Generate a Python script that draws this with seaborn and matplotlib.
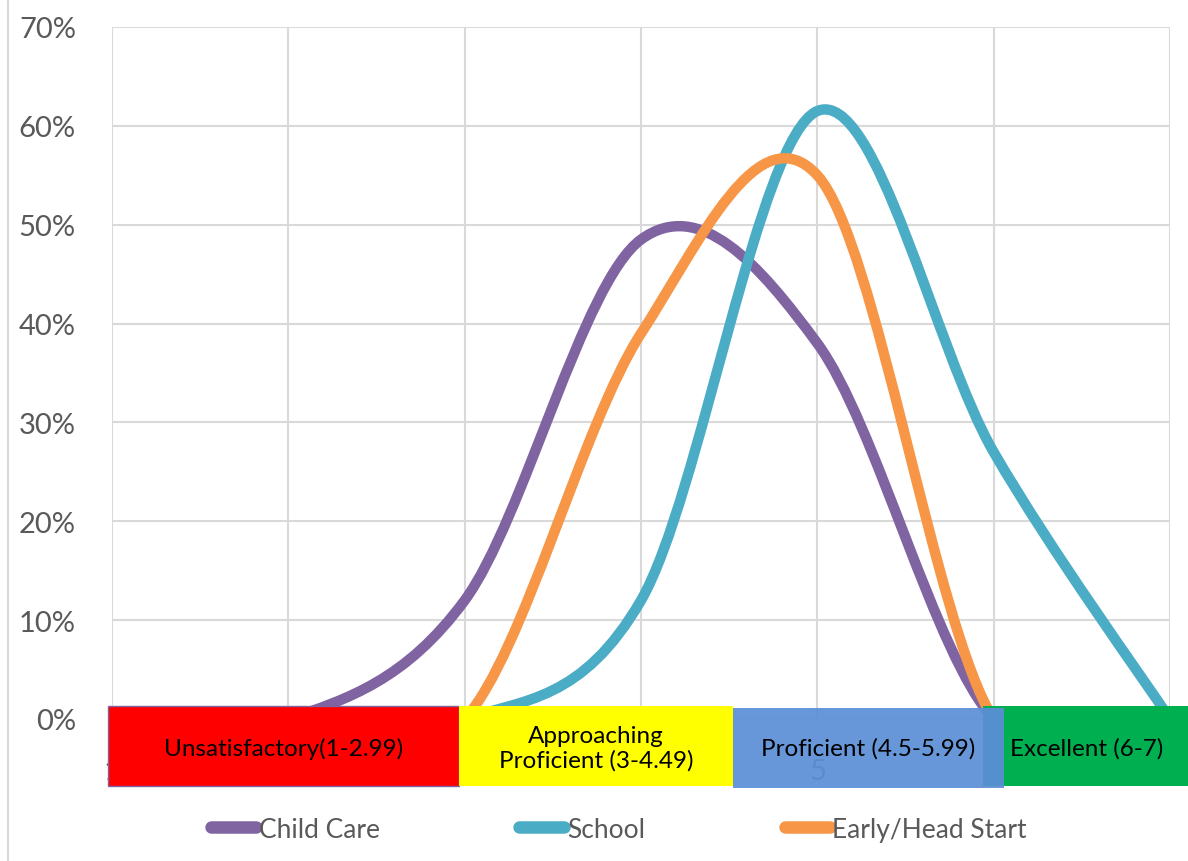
import numpy as np
import matplotlib
matplotlib.use("Agg")
import matplotlib.pyplot as plt
from matplotlib.path import Path
from matplotlib.patches import PathPatch, Rectangle
from matplotlib.lines import Line2D
from matplotlib.ticker import PercentFormatter
import seaborn as sns

# rating scale points
scores = [1, 2, 3, 4, 5, 6, 7]

# share of programs at each score
child_care = [0.0, 0.0, 0.12, 0.485, 0.38, 0.0, 0.0]
school = [0.0, 0.0, 0.0, 0.12, 0.615, 0.27, 0.0]
early_head_start = [0.0, 0.0, 0.0, 0.39, 0.55, 0.0, 0.0]

series_names = ["Child Care", "School", "Early/Head Start"]
series_colors = ["#8064A2", "#4BACC6", "#F79646"]

# rating bands drawn over the x axis labels
band_labels = ["Unsatisfactory(1-2.99)", "Approaching\nProficient (3-4.49)",
               "Excellent (6-7)", "Proficient (4.5-5.99)"]
band_colors = ["#FF0000", "#FFFF00", "#00B050", "#5B8FD6"]

sns.set_theme(style="white")
plt.rcParams["font.family"] = ["Lato", "DejaVu Sans"]

fig = plt.figure(figsize=(11.88, 8.62), dpi=100)
ax = fig.add_axes([112 / 1188, 1 - 720 / 862, (1170 - 112) / 1188, (720 - 28) / 862])


def smooth_path(xs, ys):
    # excel style smoothed line: cubic bezier through every point
    pts = np.column_stack([xs, ys]).astype(float)
    n = len(pts)
    verts = [pts[0]]
    codes = [Path.MOVETO]
    for i in range(n - 1):
        p0 = pts[i - 1] if i > 0 else pts[i]
        p1 = pts[i]
        p2 = pts[i + 1]
        p3 = pts[i + 2] if i + 2 < n else pts[i + 1]
        c1 = p1 + (p2 - p0) / 6
        c2 = p2 - (p3 - p1) / 6
        verts += [c1, c2, p2]
        codes += [Path.CURVE4] * 3
    return Path(verts, codes)


for vals, name, col in zip([child_care, school, early_head_start], series_names, series_colors):
    patch = PathPatch(smooth_path(scores, vals), facecolor="none", edgecolor=col,
                      lw=7.5, capstyle="round", joinstyle="round", zorder=3)
    ax.add_patch(patch)

ax.set_xlim(1, 7)
ax.set_ylim(0, 0.7)
ax.set_xticks(scores)
ax.set_yticks(np.arange(0, 0.71, 0.1))
ax.yaxis.set_major_formatter(PercentFormatter(1.0, decimals=0))
ax.grid(True, color="#D9D9D9", lw=1.5)
ax.tick_params(axis="both", length=0, labelsize=21, labelcolor="#595959")
ax.tick_params(axis="x", pad=28)
ax.tick_params(axis="y", pad=26)
sns.despine(ax=ax, left=True, bottom=True)

# coloured bands on top of the x axis (blue one overlaps green)
band_edges = [(0.977, 2.97), (2.97, 4.52), (5.94, 7.1), (4.52, 6.06)]
band_text_x = [1.975, 3.745, 6.53, 5.29]
for (x0, x1), tx, lab, col in zip(band_edges, band_text_x, band_labels, band_colors):
    alpha = 0.93 if col == "#5B8FD6" else 1.0
    ec = "#8064A2" if col == "#FF0000" else "none"
    y0 = -0.070 if col == "#5B8FD6" else -0.068
    ax.add_patch(Rectangle((x0, y0), x1 - x0, 0.081, facecolor=col, edgecolor=ec,
                           lw=1, alpha=alpha, clip_on=False, zorder=5))
    ax.text(tx, -0.029, lab, ha="center", va="center", fontsize=17.5,
            color="black", linespacing=1.2, clip_on=False, zorder=6)

handles = [Line2D([0], [0], color=c, lw=9, solid_capstyle="round") for c in series_colors]
fig.legend(handles, series_names, loc="center", bbox_to_anchor=(0.521, 0.037), ncol=3,
           frameon=False, fontsize=19, handlelength=1.7, handletextpad=0.1,
           columnspacing=5.3, labelcolor="#595959")

fig.add_artist(Line2D([8 / 1188, 8 / 1188], [0, 1], color="#D9D9D9", lw=1.5))

fig.savefig("out.png", dpi=100)
